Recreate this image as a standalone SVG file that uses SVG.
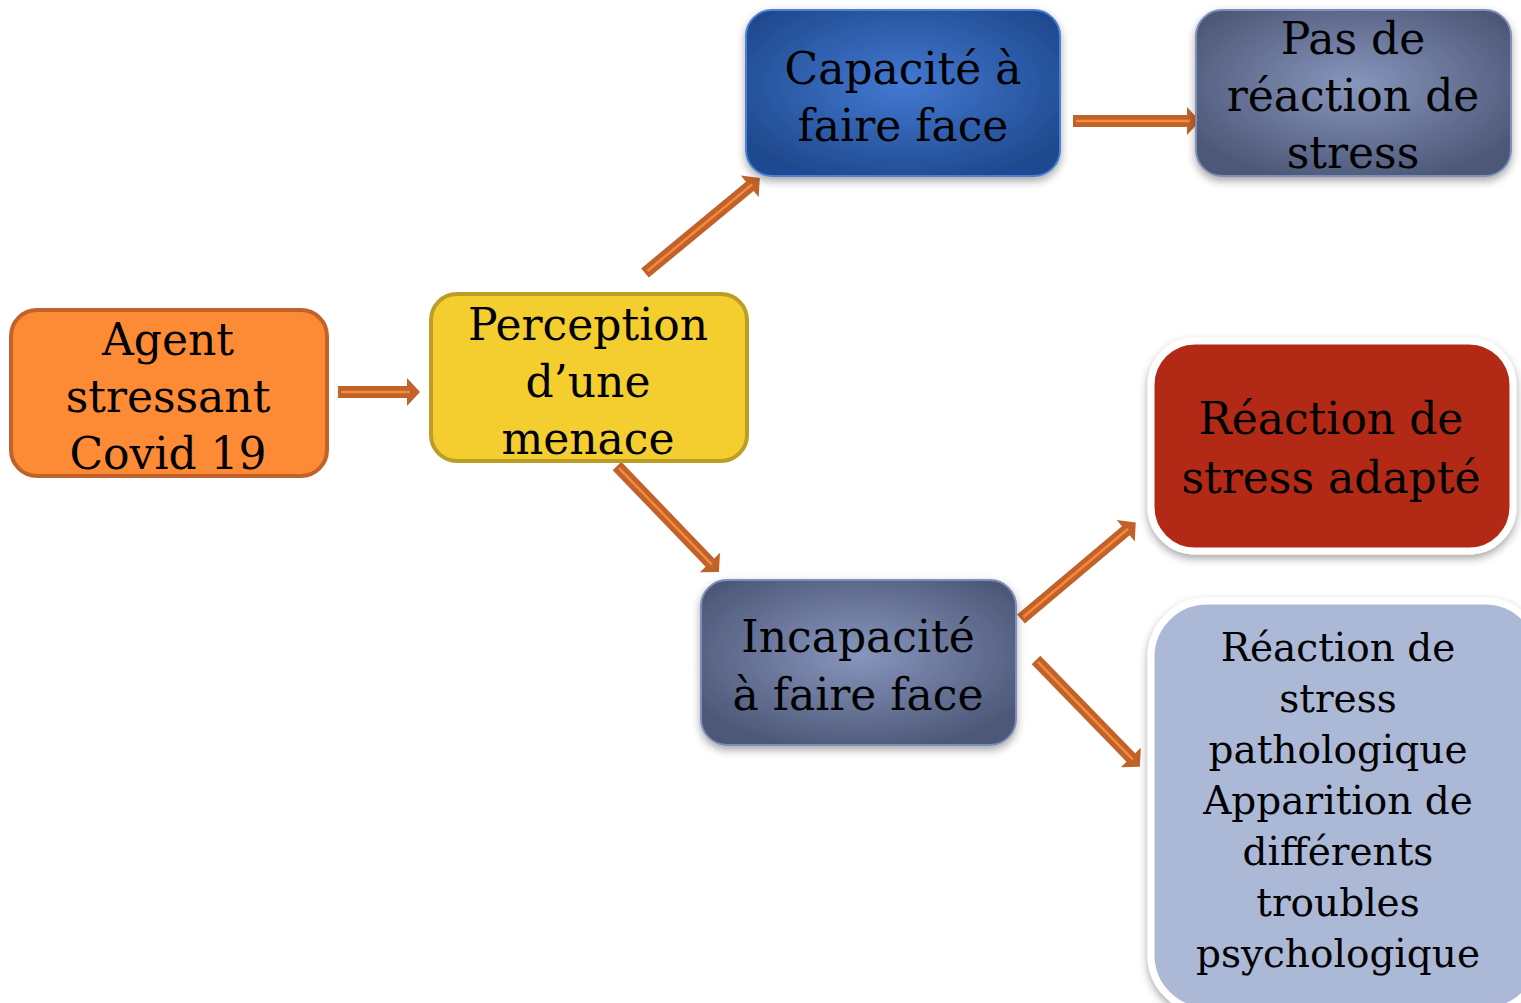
<svg xmlns="http://www.w3.org/2000/svg" width="1521" height="1003" viewBox="0 0 1521 1003">
<defs>
<radialGradient id="gBlue" cx="50%" cy="45%" r="60%">
<stop offset="0" stop-color="#4379D2"/>
<stop offset="1" stop-color="#1F4A8F"/>
</radialGradient>
<radialGradient id="gGray" cx="50%" cy="45%" r="60%">
<stop offset="0" stop-color="#8896BD"/>
<stop offset="1" stop-color="#4D5878"/>
</radialGradient>
<filter id="sh" x="-10%" y="-10%" width="120%" height="130%">
<feDropShadow dx="0" dy="4" stdDeviation="4" flood-color="#000" flood-opacity="0.35"/>
</filter>
<style>
.t{font-family:"DejaVu Serif","Liberation Serif",serif;font-size:44px;fill:#000;text-anchor:middle}
.s{font-size:39px}
.ar{fill:#C0622A}
.ai{stroke:#F58A3C;stroke-width:2.5;fill:none}
</style>
</defs>

<g id="connectors">
<g transform="translate(338,392)"><path class="ar" d="M0,-6H69V-14L82,0L69,14V6H0Z"/><path class="ai" d="M3,0H72"/></g>
<g transform="translate(645,273) rotate(-39.6)"><path class="ar" d="M0,-6H136V-14L149,0L136,14V6H0Z"/><path class="ai" d="M3,0H139"/></g>
<g transform="translate(1073,121)"><path class="ar" d="M0,-6H114V-14L127,0L114,14V6H0Z"/><path class="ai" d="M3,0H117"/></g>
<g transform="translate(617,466) rotate(46.1)"><path class="ar" d="M0,-6H134V-14L147,0L134,14V6H0Z"/><path class="ai" d="M3,0H137"/></g>
<g transform="translate(1021,619) rotate(-40.1)"><path class="ar" d="M0,-6H137V-14L150,0L137,14V6H0Z"/><path class="ai" d="M3,0H140"/></g>
<g transform="translate(1036,660) rotate(45.8)"><path class="ar" d="M0,-6H136V-14L149,0L136,14V6H0Z"/><path class="ai" d="M3,0H139"/></g>
</g>

<g id="agent">
<rect x="11" y="310" width="316" height="166" rx="26" fill="#FD8A35" stroke="#C0622A" stroke-width="4"/>
<text class="t" x="168" y="355">Agent</text>
<text class="t" x="168" y="412">stressant</text>
<text class="t" x="168" y="469">Covid 19</text>
</g>

<g id="perception">
<rect x="431" y="294" width="316" height="167" rx="26" fill="#F4CD2E" stroke="#BC9D27" stroke-width="4"/>
<text class="t" x="588" y="340">Perception</text>
<text class="t" x="588" y="397">d’une</text>
<text class="t" x="588" y="454">menace</text>
</g>

<g id="capacite">
<rect x="746" y="10" width="314" height="166" rx="26" fill="url(#gBlue)" stroke="#4C80D6" stroke-width="2" filter="url(#sh)"/>
<text class="t" x="903" y="84">Capacité à</text>
<text class="t" x="903" y="141">faire face</text>
</g>

<g id="pasde">
<rect x="1196" y="10" width="315" height="166" rx="26" fill="url(#gGray)" stroke="#7F8FBB" stroke-width="2" filter="url(#sh)"/>
<text class="t" x="1353" y="54">Pas de</text>
<text class="t" x="1353" y="111">réaction de</text>
<text class="t" x="1353" y="168">stress</text>
</g>

<g id="incapacite">
<rect x="701" y="580" width="315" height="165" rx="26" fill="url(#gGray)" stroke="#7F8FBB" stroke-width="2" filter="url(#sh)"/>
<text class="t" x="858" y="652">Incapacité</text>
<text class="t" x="858" y="710">à faire face</text>
</g>

<g id="adapte">
<rect x="1151" y="341" width="362" height="210" rx="44" fill="#B22B17" stroke="#FFFFFF" stroke-width="7" filter="url(#sh)"/>
<text class="t" x="1331" y="434">Réaction de</text>
<text class="t" x="1331" y="493">stress adapté</text>
</g>

<g id="pathologique">
<rect x="1151" y="601" width="390" height="410" rx="56" fill="#ABB8D6" stroke="#FFFFFF" stroke-width="7" filter="url(#sh)"/>
<text class="t s" x="1338" y="661">Réaction de</text>
<text class="t s" x="1338" y="712">stress</text>
<text class="t s" x="1338" y="763">pathologique</text>
<text class="t s" x="1338" y="814">Apparition de</text>
<text class="t s" x="1338" y="865">différents</text>
<text class="t s" x="1338" y="916">troubles</text>
<text class="t s" x="1338" y="967">psychologique</text>
</g>
</svg>
